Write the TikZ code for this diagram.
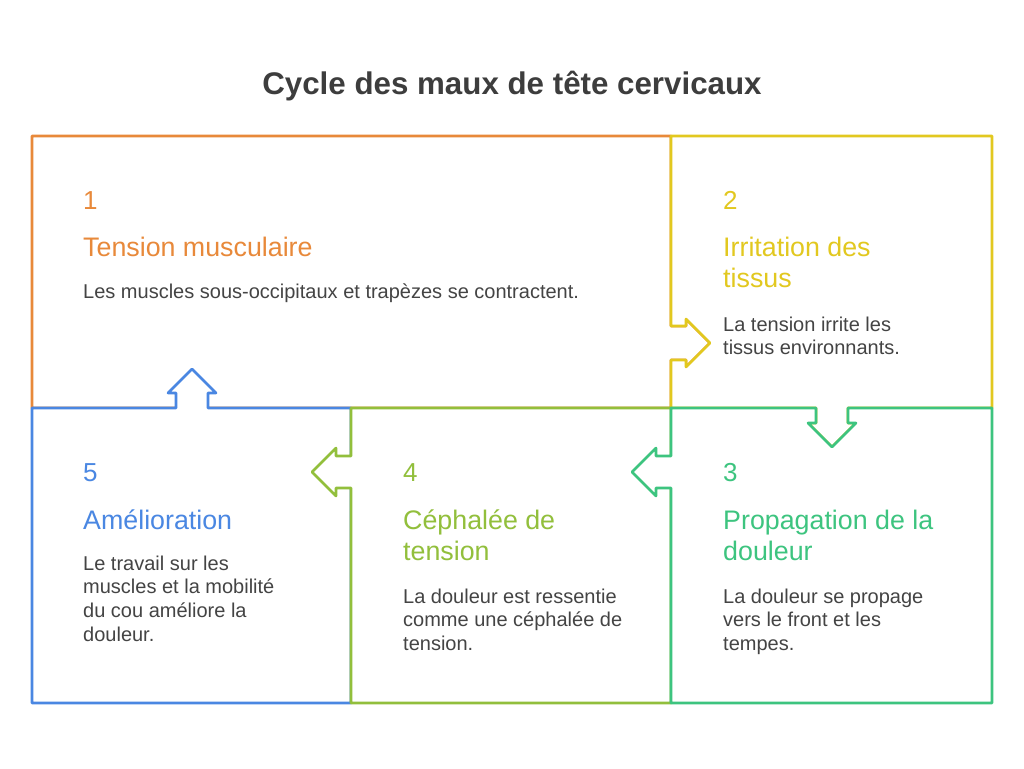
\documentclass[tikz,border=0pt]{standalone}
\usepackage{fontspec}
\setmainfont{Liberation Sans}
\definecolor{cOrange}{RGB}{232,137,58}
\definecolor{cYellow}{RGB}{226,200,31}
\definecolor{cGreen}{RGB}{61,196,127}
\definecolor{cLime}{RGB}{146,191,60}
\definecolor{cBlue}{RGB}{74,135,226}
\definecolor{cText}{RGB}{68,68,68}
\definecolor{cTitle}{RGB}{61,61,61}
\tikzset{
  boxline/.style={line width=2.6pt, line join=round, fill=white},
  numtxt/.style={anchor=base west, inner sep=0pt, font=\fontsize{26}{30}\selectfont},
  headtxt/.style={anchor=base west, inner sep=0pt, align=left, font=\fontsize{26.8}{31.5}\selectfont},
  bodytxt/.style={anchor=base west, inner sep=0pt, align=left, text=cText, font=\fontsize{20}{23.8}\selectfont},
}
\begin{document}
\begin{tikzpicture}[x=1pt,y=-1pt]
\useasboundingbox (0,0) rectangle (1024,768);
% Box 1
\draw[boxline, draw=cOrange] (32,136) -- (671,136) -- (671,326) -- (686,326) -- (686,319) -- (710,343) -- (686,367) -- (686,360) -- (671,360) -- (671,408) -- (32,408) -- cycle;
% Box 2
\draw[boxline, draw=cYellow] (671,136) -- (992,136) -- (992,408) -- (848,408) -- (848,423) -- (856,423) -- (832,447) -- (808,423) -- (816,423) -- (816,408) -- (671,408) -- (671,360) -- (686,360) -- (686,367) -- (710,343) -- (686,319) -- (686,326) -- (671,326) -- cycle;
% Box 5
\draw[boxline, draw=cBlue] (32,408) -- (176,408) -- (176,393) -- (168,393) -- (192,369) -- (216,393) -- (208,393) -- (208,408) -- (351,408) -- (351,703) -- (32,703) -- cycle;
% Box 4
\draw[boxline, draw=cLime] (351,408) -- (671,408) -- (671,703) -- (351,703) -- (351,488) -- (336,488) -- (336,496) -- (312,472) -- (336,448) -- (336,456) -- (351,456) -- cycle;
% Box 3
\draw[boxline, draw=cGreen] (671,408) -- (816,408) -- (816,423) -- (808,423) -- (832,447) -- (856,423) -- (848,423) -- (848,408) -- (992,408) -- (992,703) -- (671,703) -- (671,488) -- (656,488) -- (656,496) -- (632,472) -- (656,448) -- (656,456) -- (671,456) -- cycle;

\node[anchor=base, inner sep=0pt, text=cTitle, font=\fontsize{31.3}{36}\selectfont\bfseries] (title) at (512,94) {Cycle des maux de tête cervicaux};

% Box 1 text
\node[numtxt, text=cOrange] (n1) at (83,209) {1};
\node[headtxt, text=cOrange] (h1) at (83,256) {Tension musculaire};
\node[bodytxt] (b1) at (83,298) {Les muscles sous-occipitaux et trapèzes se contractent.};
% Box 2 text
\node[numtxt, text=cYellow] (n2) at (723,209) {2};
\node[headtxt, text=cYellow] (h2) at (723,287.5) {Irritation des\\tissus};
\node[bodytxt] (b2) at (723,354.8) {La tension irrite les\\tissus environnants.};
% Box 3 text
\node[numtxt, text=cGreen] (n3) at (723,481) {3};
\node[headtxt, text=cGreen] (h3) at (723,560.5) {Propagation de la\\douleur};
\node[bodytxt] (b3) at (723,650.6) {La douleur se propage\\vers le front et les\\tempes.};
% Box 4 text
\node[numtxt, text=cLime] (n4) at (403,481) {4};
\node[headtxt, text=cLime] (h4) at (403,560.5) {Céphalée de\\tension};
\node[bodytxt] (b4) at (403,650.6) {La douleur est ressentie\\comme une céphalée de\\tension.};
% Box 5 text
\node[numtxt, text=cBlue] (n5) at (83,481) {5};
\node[headtxt, text=cBlue] (h5) at (83,529) {Amélioration};
\node[bodytxt] (b5) at (83,641.4) {Le travail sur les\\muscles et la mobilité\\du cou améliore la\\douleur.};
\end{tikzpicture}
\end{document}
